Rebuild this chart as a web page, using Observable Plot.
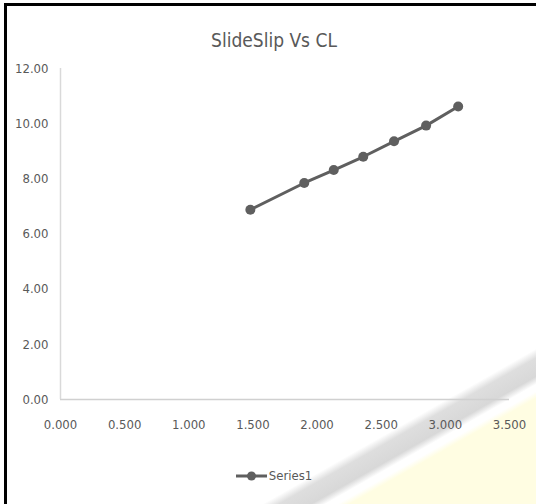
<!DOCTYPE html>
<html><head><meta charset="utf-8">
<script src="https://cdn.jsdelivr.net/npm/d3@7"></script>
<script src="https://cdn.jsdelivr.net/npm/@observablehq/plot@0.6"></script>
<style>
html,body{margin:0;padding:0;width:536px;height:504px;overflow:hidden;}
body{position:relative;font-family:"DejaVu Sans Condensed","Liberation Sans",sans-serif;color:#595959;
  background:#fff linear-gradient(150.4deg, rgba(255,255,255,0) 568px, #dedede 576px, #d8d8d8 592px, rgba(255,255,255,0) 599px, rgba(255,255,255,0) 605px, #fffde2 611px);}
#frame{position:absolute;left:4px;top:3px;width:560px;height:530px;border-top:3px solid #000;border-left:3px solid #000;pointer-events:none;}
#title{height:60px;box-sizing:border-box;padding-top:30px;padding-left:12px;text-align:center;font-size:19px;line-height:20px;}
#chart svg{display:block;}
#legend{height:64px;box-sizing:border-box;padding-top:8px;padding-left:12px;display:flex;justify-content:center;align-items:center;font-size:13px;line-height:16px;}
#legend svg{display:block;margin-right:2px;}
</style></head>
<body>
<div id="frame"></div>
<div id="title">SlideSlip Vs CL</div>
<div id="chart"></div>
<div id="legend"></div>
<script>
const seriesName = "Series1";
const xValues = [1.48, 1.90, 2.13, 2.36, 2.60, 2.85, 3.10];
const yValues = [6.88, 7.85, 8.32, 8.80, 9.36, 9.93, 10.62];
const xTicks = [0, 0.5, 1.0, 1.5, 2.0, 2.5, 3.0, 3.5];
const yTicks = [0, 2, 4, 6, 8, 10, 12];

const data = xValues.map((x, i) => ({x, y: yValues[i]}));
const lineColor = "#5f5f5f";

const chart = Plot.plot({
  width: 536,
  height: 380,
  marginTop: 8,
  marginBottom: 41,
  marginLeft: 60,
  marginRight: 27,
  style: {fontSize: "13px", color: "#595959", fontFamily: '"DejaVu Sans Condensed","Liberation Sans",sans-serif', background: "transparent"},
  x: {domain: [0, 3.5]},
  y: {domain: [0, 12]},
  marks: [
    Plot.axisX({ticks: xTicks, tickSize: 0, tickPadding: 20, tickFormat: d => d.toFixed(3), label: null}),
    Plot.axisY({ticks: yTicks, tickSize: 0, tickPadding: 12, tickFormat: d => d.toFixed(2), label: null}),
    Plot.ruleY([0], {stroke: "#d0d0d0", strokeWidth: 1.5}),
    Plot.ruleX([0], {stroke: "#d9d9d9", strokeWidth: 1.5}),
    Plot.line(data, {x: "x", y: "y", stroke: lineColor, strokeWidth: 3}),
    Plot.dot(data, {x: "x", y: "y", r: 5, fill: lineColor, stroke: null})
  ]
});
document.getElementById("chart").appendChild(chart);

const legend = document.getElementById("legend");
const ns = "http://www.w3.org/2000/svg";
const sw = document.createElementNS(ns, "svg");
sw.setAttribute("width", 31); sw.setAttribute("height", 12);
const ln = document.createElementNS(ns, "line");
ln.setAttribute("x1", 0); ln.setAttribute("x2", 31); ln.setAttribute("y1", 6); ln.setAttribute("y2", 6);
ln.setAttribute("stroke", lineColor); ln.setAttribute("stroke-width", 3);
const c = document.createElementNS(ns, "circle");
c.setAttribute("cx", 15.5); c.setAttribute("cy", 6); c.setAttribute("r", 4.5); c.setAttribute("fill", lineColor);
sw.appendChild(ln); sw.appendChild(c);
legend.appendChild(sw);
const t = document.createElement("span"); t.textContent = seriesName;
legend.appendChild(t);
</script>
</body></html>
